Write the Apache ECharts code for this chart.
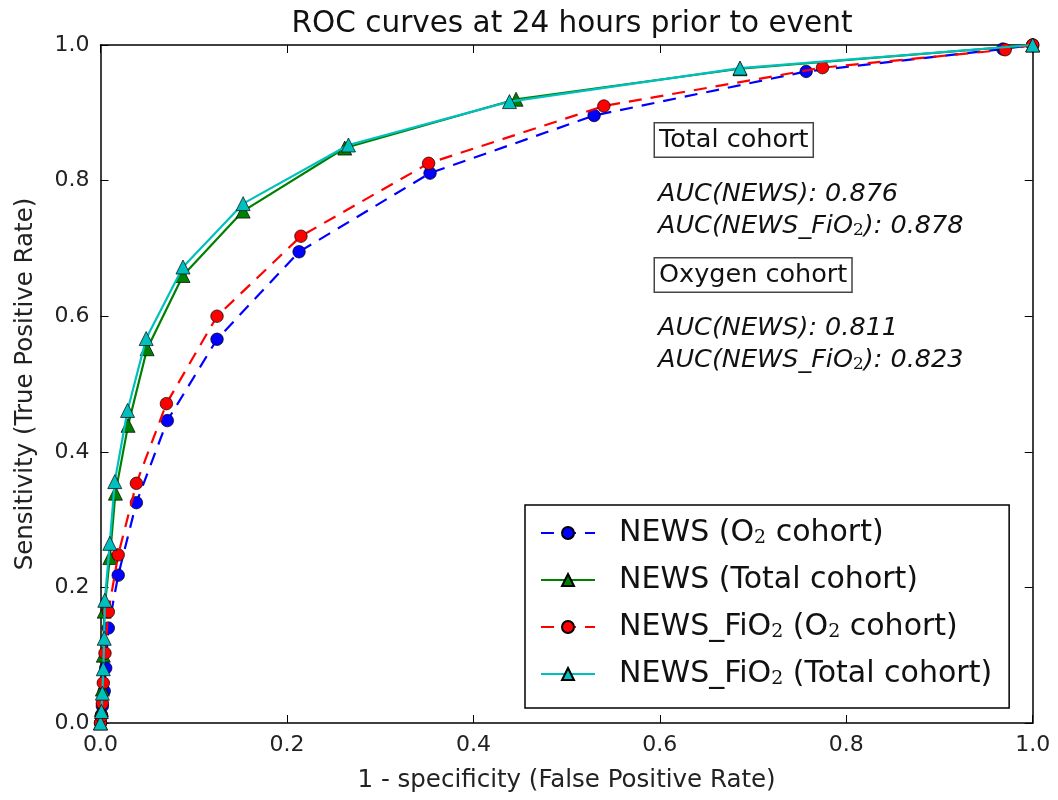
<!DOCTYPE html>
<html>
<head>
<meta charset="utf-8">
<script src="https://cdn.jsdelivr.net/npm/echarts@6/dist/echarts.min.js"></script>
<style>html,body{margin:0;padding:0;background:#fff}#c{width:1058px;height:800px}</style>
</head>
<body>
<div id="c"></div>
<script>
// ---- data ----
var ticks = [0.0, 0.2, 0.4, 0.6, 0.8, 1.0];

var newsO2_fpr = [0, 0.001, 0.002, 0.004, 0.0056, 0.0084, 0.019, 0.0385, 0.0717, 0.125, 0.213, 0.3535, 0.5295, 0.757, 0.968, 1];
var newsO2_tpr = [0, 0.012, 0.025, 0.047, 0.081, 0.140, 0.218, 0.325, 0.446, 0.566, 0.695, 0.811, 0.896, 0.961, 0.994, 1];

var newsTot_fpr = [0, 0.001, 0.002, 0.003, 0.004, 0.010, 0.016, 0.0296, 0.050, 0.0885, 0.153, 0.262, 0.4458, 0.686, 1];
var newsTot_tpr = [0, 0.02, 0.05, 0.10, 0.165, 0.244, 0.339, 0.439, 0.552, 0.660, 0.755, 0.848, 0.920, 0.965, 1];

var fio2O2_fpr = [0, 0.001, 0.002, 0.003, 0.0048, 0.0084, 0.019, 0.0385, 0.0707, 0.125, 0.215, 0.352, 0.540, 0.7745, 0.9705, 1];
var fio2O2_tpr = [0, 0.010, 0.029, 0.059, 0.103, 0.164, 0.248, 0.3535, 0.471, 0.600, 0.718, 0.8255, 0.910, 0.9666, 0.993, 1];

var fio2Tot_fpr = [0, 0.001, 0.002, 0.003, 0.004, 0.0046, 0.010, 0.0153, 0.029, 0.049, 0.0885, 0.153, 0.266, 0.4387, 0.686, 1];
var fio2Tot_tpr = [0, 0.017, 0.044, 0.080, 0.125, 0.181, 0.265, 0.356, 0.461, 0.567, 0.6726, 0.766, 0.8525, 0.9165, 0.966, 1];

var seriesNames = ['NEWS (O2 cohort)', 'NEWS (Total cohort)', 'NEWS_FiO2 (O2 cohort)', 'NEWS_FiO2 (Total cohort)'];
var aucTotal = ['0.876', '0.878'];
var aucOxygen = ['0.811', '0.823'];

function pairs(xs, ys) { return xs.map(function (x, i) { return [x, ys[i]]; }); }

var FONT = 'DejaVu Sans';
var chart = echarts.init(document.getElementById('c'), null, { renderer: 'canvas' });

function axisBase(pos, labels) {
  return {
    type: 'value', position: pos, min: 0, max: 1, interval: 0.2,
    axisLine: { show: true, onZero: false, lineStyle: { color: '#000', width: 1.5 } },
    axisTick: { show: true, inside: true, length: 8, lineStyle: { color: '#000', width: 1 } },
    splitLine: { show: false },
    axisLabel: {
      show: labels, margin: 11, color: '#222', fontFamily: FONT, fontSize: 22,
      formatter: function (v) { return v.toFixed(1); }
    }
  };
}

var xMain = axisBase('bottom', true);
xMain.name = '1 - specificity (False Positive Rate)';
xMain.nameLocation = 'middle';
xMain.nameGap = 45;
xMain.nameTextStyle = { fontFamily: FONT, fontSize: 24.5, color: '#222' };
var yMain = axisBase('left', true);
yMain.name = 'Sensitivity (True Positive Rate)';
yMain.nameLocation = 'middle';
yMain.nameGap = 62;
yMain.nameTextStyle = { fontFamily: FONT, fontSize: 24.5, color: '#222' };

function mk(name, xs, ys, color, symbol, dashed, z) {
  return {
    name: name, type: 'line', xAxisIndex: 0, yAxisIndex: 0,
    data: pairs(xs, ys), symbol: symbol, symbolSize: symbol === 'circle' ? 12.5 : 14,
    showAllSymbol: true, z: z, clip: true,
    lineStyle: { color: color, width: 2.2, type: dashed ? [13, 9] : 'solid' },
    itemStyle: { color: color, borderColor: '#000', borderWidth: 0.7 },
    emphasis: { disabled: true }, animation: false
  };
}

var option = {
  backgroundColor: '#fff',
  animation: false,
  title: {
    text: 'ROC curves at 24 hours prior to event',
    left: 567, top: 4, textAlign: 'center',
    textStyle: { fontFamily: FONT, fontSize: 29.5, fontWeight: 'normal', color: '#111' }
  },
  grid: { left: 100.5, right: 25.3, top: 45, bottom: 77, containLabel: false },
  xAxis: [xMain, axisBase('top', false)],
  yAxis: [yMain, axisBase('right', false)],
  legend: {
    orient: 'vertical', left: 525, top: 505, align: 'left',
    padding: [12, 17, 18, 15], itemGap: 15, itemWidth: 54, itemHeight: 15,
    backgroundColor: '#fff', borderColor: '#000', borderWidth: 1.5, borderRadius: 0,
    data: seriesNames,
    formatter: function (n) { return '  ' + n.replace(/O2/g, 'O{s|2}'); },
    textStyle: {
      fontFamily: FONT, fontSize: 30, color: '#111', lineHeight: 32,
      rich: { s: { fontFamily: 'DejaVu Serif', fontSize: 19, padding: [11, 0, 0, 0], lineHeight: 32, color: '#111' } }
    }
  },
  series: [
    mk(seriesNames[0], newsO2_fpr, newsO2_tpr, '#0000ff', 'circle', true, 2),
    mk(seriesNames[1], newsTot_fpr, newsTot_tpr, '#008000', 'triangle', false, 3),
    mk(seriesNames[2], fio2O2_fpr, fio2O2_tpr, '#ff0000', 'circle', true, 4),
    mk(seriesNames[3], fio2Tot_fpr, fio2Tot_tpr, '#00bfbf', 'triangle', false, 5)
  ]
};

var ANN = 25.5;
function boxText(x, y, txt) {
  return {
    type: 'text', x: x, y: y, z: 100,
    style: {
      text: txt, fontFamily: FONT, fontSize: ANN, fill: '#111',
      verticalAlign: 'middle', textVerticalAlign: 'middle',
      backgroundColor: '#fff', borderColor: '#444', borderWidth: 1.5, padding: [4, 4, 3, 4]
    }
  };
}
function aucText(x, y, label, val) {
  var t = label === 'NEWS'
    ? '{i|AUC(NEWS): ' + val + '}'
    : '{i|AUC(NEWS_FiO}{s|2}{i|): ' + val + '}';
  return {
    type: 'text', x: x, y: y, z: 100,
    style: {
      text: t, fontFamily: FONT, fontSize: ANN, fill: '#111',
      verticalAlign: 'middle', textVerticalAlign: 'middle',
      rich: {
        i: { fontFamily: FONT, fontStyle: 'italic', fontSize: ANN, lineHeight: 30, color: '#111' },
        s: { fontFamily: 'DejaVu Serif', fontSize: 17, padding: [10, 0, 0, 0], lineHeight: 30, color: '#111' }
      }
    }
  };
}

option.graphic = [
  boxText(655, 140, 'Total cohort'),
  aucText(658, 194, 'NEWS', aucTotal[0]),
  aucText(658, 226, 'FiO2', aucTotal[1]),
  boxText(655, 275, 'Oxygen cohort'),
  aucText(658, 328, 'NEWS', aucOxygen[0]),
  aucText(658, 360, 'FiO2', aucOxygen[1])
];

chart.setOption(option);
</script>
</body>
</html>
